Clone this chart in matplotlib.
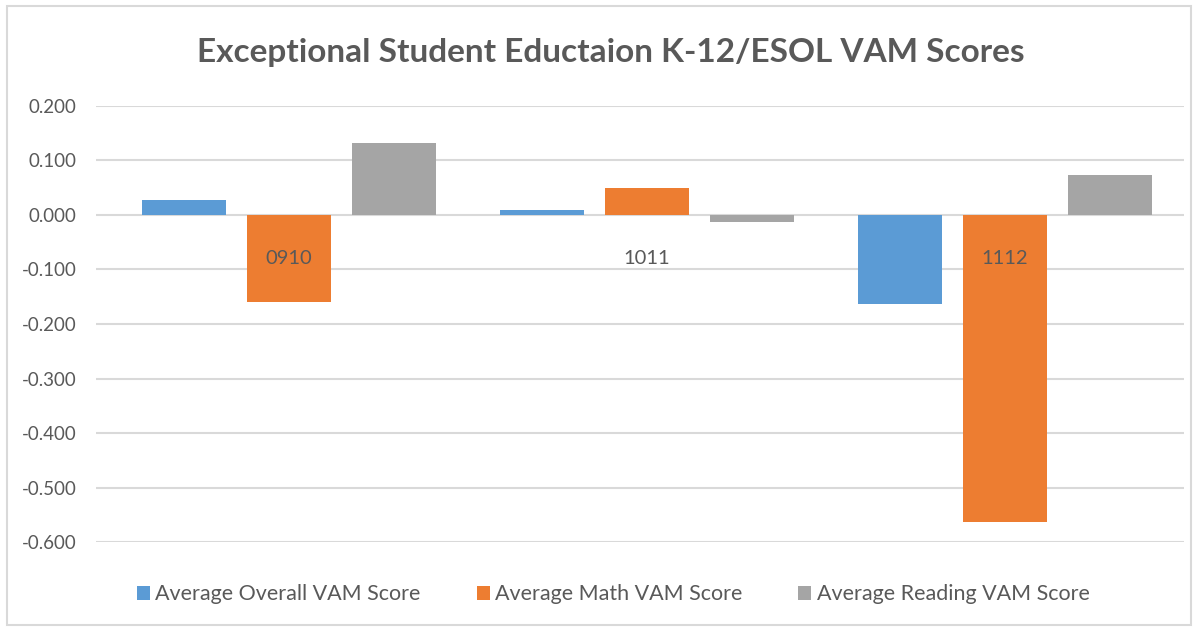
import numpy as np
import matplotlib.pyplot as plt
from matplotlib.patches import Rectangle

''' chart data '''
years = ['0910', '1011', '1112']
overall = [0.027, 0.009, -0.163]
math = [-0.159, 0.050, -0.563]
reading = [0.133, -0.013, 0.073]
series_names = ['Average Overall VAM Score', 'Average Math VAM Score', 'Average Reading VAM Score']
colors = ['#5b9bd5', '#ed7d31', '#a5a5a5']
text_color = '#595959'
grid_color = '#d9d9d9'

plt.rcParams['font.family'] = ['Lato', 'DejaVu Sans']

fig = plt.figure(figsize=(11.98, 6.29), dpi=100)
fig.patches.append(Rectangle((0.006, 0.006), 0.988, 0.984, transform=fig.transFigure,
                             fill=False, edgecolor=grid_color, linewidth=1.5))

ax = fig.add_axes([0.0801, 0.1383, 0.9082, 0.6932])

x = np.arange(len(years))
width = 0.235
step = 0.293
for ii, vals in enumerate([overall, math, reading]):
    ax.bar(x + (ii - 1) * step, vals, width=width, color=colors[ii],
           label=series_names[ii], zorder=3)

ax.set_ylim(-0.6, 0.2)
ax.set_xlim(-0.539, 2.5)
ax.set_yticks(np.round(np.arange(-0.6, 0.21, 0.1), 1))
ax.yaxis.set_major_formatter(plt.FuncFormatter(lambda v, p: '%.3f' % (round(v, 3) + 0.0)))
ax.tick_params(axis='y', length=0, labelsize=13.5, labelcolor=text_color, pad=14)
ax.set_xticks([])
ax.grid(axis='y', color=grid_color, linewidth=1.5, zorder=0)
for s in ax.spines.values():
    s.set_visible(False)

# category labels sit just under the zero line
for xi, name in zip(x, years):
    ax.annotate(name, (xi, 0), xytext=(0, -31), textcoords='offset points',
                ha='center', va='center', fontsize=14.5, color=text_color, zorder=4)

fig.text(0.51, 0.917, 'Exceptional Student Eductaion K-12/ESOL VAM Scores',
         ha='center', va='center', fontsize=24, fontweight='bold', color=text_color)

fig.legend(loc='center', bbox_to_anchor=(0.512, 0.055), ncol=3, frameon=False,
           fontsize=15.5, labelcolor=text_color, handlelength=0.6, handleheight=0.6,
           handletextpad=0.25, columnspacing=2.6)

fig.savefig('out.png', dpi=100)
